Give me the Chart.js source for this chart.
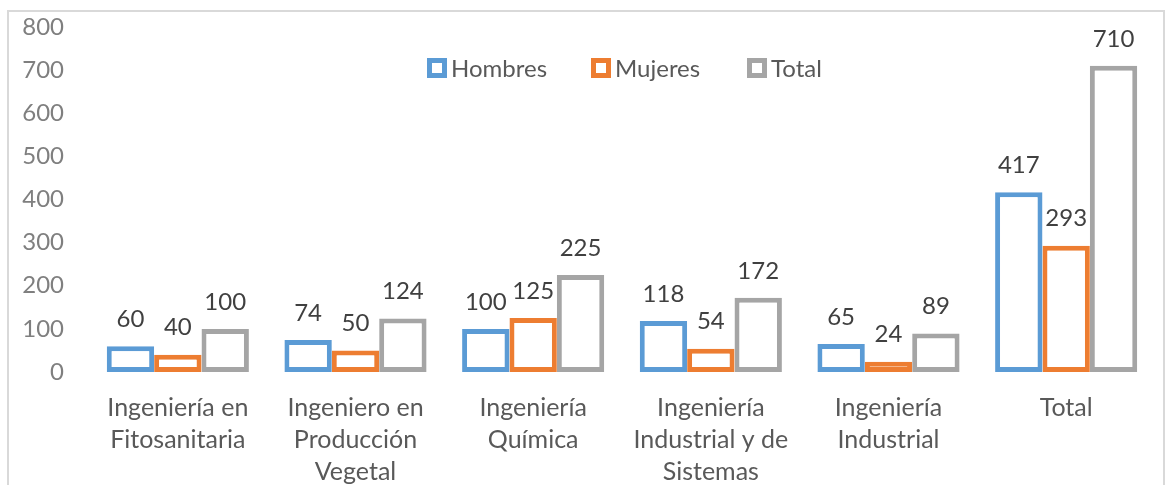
<!DOCTYPE html>
<html>
<head>
<meta charset="utf-8">
<script src="https://cdn.jsdelivr.net/npm/chart.js@4.4.1/dist/chart.umd.min.js"></script>
<style>
  html, body { margin: 0; padding: 0; background: #fff; }
  #wrap { width: 1170px; height: 485px; position: relative; }
</style>
</head>
<body>
<div id="wrap"><canvas id="myChart" width="1170" height="485"></canvas></div>
<script>
const categories = [
  ["Ingeniería en", "Fitosanitaria"],
  ["Ingeniero en", "Producción", "Vegetal"],
  ["Ingeniería", "Química"],
  ["Ingeniería", "Industrial y de", "Sistemas"],
  ["Ingeniería", "Industrial"],
  "Total"
];
const seriesNames = ["Hombres", "Mujeres", "Total"];
const hombres = [60, 74, 100, 118, 65, 417];
const mujeres = [40, 50, 125, 54, 24, 293];
const total = [100, 124, 225, 172, 89, 710];
const yTicks = [0, 100, 200, 300, 400, 500, 600, 700, 800];

const colors = ["#5b9bd5", "#ed7d31", "#a5a5a5"];
const FONT = "Lato, 'Liberation Sans', sans-serif";

document.addEventListener("DOMContentLoaded", () => {
  const ctx = document.getElementById("myChart").getContext("2d");

  // frame + legend + value labels
  const extras = {
    id: "extras",
    beforeDraw(chart) {
      const c = chart.ctx;
      c.save();
      c.fillStyle = "#fff";
      c.fillRect(0, 0, chart.width, chart.height);
      c.strokeStyle = "#d9d9d9";
      c.lineWidth = 2;
      c.strokeRect(8, 11, 1156, 500);
      c.restore();
    },
    afterDatasetsDraw(chart) {
      const c = chart.ctx;
      c.save();
      c.font = "24px " + FONT;
      c.fillStyle = "#404040";
      c.textAlign = "center";
      c.textBaseline = "middle";
      chart.data.datasets.forEach((ds, i) => {
        chart.getDatasetMeta(i).data.forEach((bar, j) => {
          c.fillText(String(ds.data[j]), bar.x, bar.y - 27);
        });
      });
      // legend
      const lx = [427, 591, 747];
      c.textAlign = "left";
      c.fillStyle = "#595959";
      seriesNames.forEach((name, i) => {
        c.strokeStyle = colors[i];
        c.lineWidth = 5;
        c.strokeRect(lx[i] + 2.5, 58 + 2.5, 15, 15);
        c.fillText(name, lx[i] + 24, 69);
      });
      c.restore();
    }
  };

  const mk = (label, data, i) => ({
    label: label,
    data: data,
    backgroundColor: "#ffffff",
    borderColor: colors[i],
    borderWidth: 5,
    borderSkipped: false,
    categoryPercentage: 0.8,
    barPercentage: 1.0
  });

  new Chart(ctx, {
    type: "bar",
    data: {
      labels: categories,
      datasets: [
        mk(seriesNames[0], hombres, 0),
        mk(seriesNames[1], mujeres, 1),
        mk(seriesNames[2], total, 2)
      ]
    },
    options: {
      responsive: false,
      animation: false,
      layout: { padding: { left: 10, right: 15, top: 27, bottom: 0 } },
      plugins: { legend: { display: false }, tooltip: { enabled: false } },
      scales: {
        x: {
          afterFit(axis) { axis.height = 113; },
          grid: { display: false, drawTicks: false },
          border: { display: false },
          ticks: {
            color: "#595959",
            font: { family: FONT, size: 25, lineHeight: 1.28 },
            padding: 20,
            maxRotation: 0,
            autoSkip: false
          }
        },
        y: {
          min: 0,
          max: 800,
          afterBuildTicks(axis) { axis.ticks = yTicks.map(v => ({ value: v })); },
          afterFit(axis) {
            axis.width = 79;
            axis.paddingTop = 0;
            axis.paddingBottom = 0;
          },
          grid: { display: false, drawTicks: false },
          border: { display: false },
          ticks: {
            color: "#7f7f7f",
            font: { family: FONT, size: 24 },
            padding: 25
          }
        }
      }
    },
    plugins: [extras]
  });
});
</script>
</body>
</html>
